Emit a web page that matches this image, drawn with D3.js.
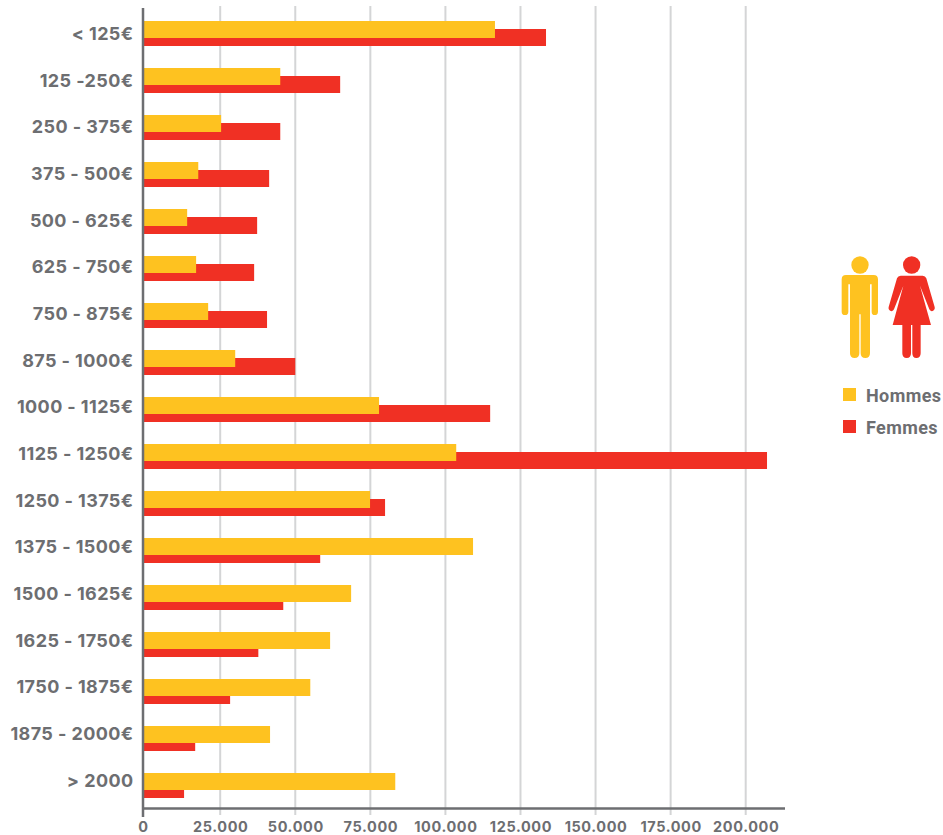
<!DOCTYPE html>
<html><head><meta charset="utf-8">
<script src="https://cdn.jsdelivr.net/npm/d3@7"></script>
<style>html,body{margin:0;padding:0;background:#fff}svg{display:block}text{font-family:Inter,"Open Sans",sans-serif}</style>
</head><body><div id="c"></div>
<script>
const categories=["< 125€","125 -250€","250 - 375€","375 - 500€","500 - 625€","625 - 750€","750 - 875€","875 - 1000€","1000 - 1125€","1125 - 1250€","1250 - 1375€","1375 - 1500€","1500 - 1625€","1625 - 1750€","1750 - 1875€","1875 - 2000€","> 2000"];
const hommes=[116500,45000,25300,17900,14300,17200,21100,30000,77900,103600,74900,109200,68600,61600,55000,41600,83300];
const femmes=[133500,64950,45000,41300,37300,36300,40600,50000,114900,207100,79900,58300,46000,37700,28300,16900,13300];
const tickValues=[0,25000,50000,75000,100000,125000,150000,175000,200000];
const seriesNames=["Hommes","Femmes"];
const colors=["#fec220","#f03024"];
const grey="#6d6e71";

const svg=d3.select("#c").append("svg").attr("width",943).attr("height",835);
const x=d3.scaleLinear().domain([0,25000,200000]).range([143,220.2,745.7]);
const y=d3.scaleBand().domain(categories).range([21,21+47*17]).paddingInner(0).paddingOuter(0);
const labelY=d3.scalePoint().domain(categories).range([40,786.7]);
const fmt=d3.formatLocale({decimal:",",thousands:".",grouping:[3],currency:["","€"]}).format(",d");

// grid
svg.append("g").selectAll("line").data(tickValues.slice(1)).join("line")
 .attr("x1",d=>x(d)).attr("x2",d=>x(d)).attr("y1",6).attr("y2",815)
 .attr("stroke","#d4d5d6").attr("stroke-width",2);

// bars
const rows=svg.append("g");
rows.selectAll("rect.f").data(categories).join("rect").attr("class","f")
 .attr("x",144).attr("y",c=>y(c)+8).attr("height",17)
 .attr("width",(c,i)=>x(femmes[i])-144).attr("fill",colors[1]);
rows.selectAll("rect.h").data(categories).join("rect").attr("class","h")
 .attr("x",144).attr("y",c=>y(c)).attr("height",17)
 .attr("width",(c,i)=>x(hommes[i])-144).attr("fill",colors[0]);

// axes
const xAxis=d3.axisBottom(x).tickValues(tickValues).tickFormat(fmt).tickSize(0).tickPadding(13);
const gx=svg.append("g").attr("transform","translate(0,808.5)").call(xAxis);
gx.select(".domain").remove();
gx.selectAll("text").attr("fill",grey).attr("font-size",14.5).attr("font-weight",700).attr("font-family","Inter").attr("letter-spacing",0.6);
svg.append("line").attr("x1",143).attr("x2",785).attr("y1",808.5).attr("y2",808.5).attr("stroke",grey).attr("stroke-width",2.5);
svg.append("line").attr("x1",143).attr("x2",143).attr("y1",8).attr("y2",817).attr("stroke",grey).attr("stroke-width",2.5);

svg.append("g").selectAll("text").data(categories).join("text")
 .attr("x",133.5).attr("y",c=>labelY(c)).attr("text-anchor","end")
 .attr("fill",grey).attr("font-size",18).attr("font-weight",700).attr("letter-spacing",0.4).text(c=>c);

// pictograms
const icons=svg.append("g").attr("transform","translate(830,245) scale(0.3333)");
const man=icons.append("g").attr("fill",colors[0]);
man.append("circle").attr("cx",90).attr("cy",60).attr("r",26);
man.append("path").attr("d","M48 90H131Q144 90 144 103V200Q144 210 134 210Q125 210 125 200V118H120V325Q120 339 106 339Q92 339 92 325V208H88V325Q88 339 74 339Q60 339 60 325V118H55V200Q55 210 45 210Q35 210 35 200V103Q35 90 48 90Z");
const woman=icons.append("g").attr("fill",colors[1]);
woman.append("circle").attr("cx",245).attr("cy",60).attr("r",26);
woman.append("path").attr("d","M212 92H278Q286 92 289 100L314 186Q316 194 308 198Q301 200 298 193L270 122L303 240H272V325Q272 339 259 339Q247 339 247 325V240H243V325Q243 339 230 339Q217 339 217 325V240H188L220 122L192 193Q189 200 182 198Q174 194 176 186L201 100Q204 92 212 92Z");

// legend
const ly=d3.scalePoint().domain(seriesNames).range([388,420]);
svg.append("g").selectAll("rect").data(seriesNames).join("rect")
 .attr("x",843).attr("y",d=>ly(d)).attr("width",13).attr("height",13).attr("fill",(d,i)=>colors[i]);
svg.append("g").selectAll("text").data(seriesNames).join("text")
 .attr("x",866).attr("y",d=>ly(d)+14).attr("fill",grey)
 .attr("font-size",18).attr("font-weight",700).attr("letter-spacing",0.4).style("font-family","Roboto").text(d=>d);
</script></body></html>
